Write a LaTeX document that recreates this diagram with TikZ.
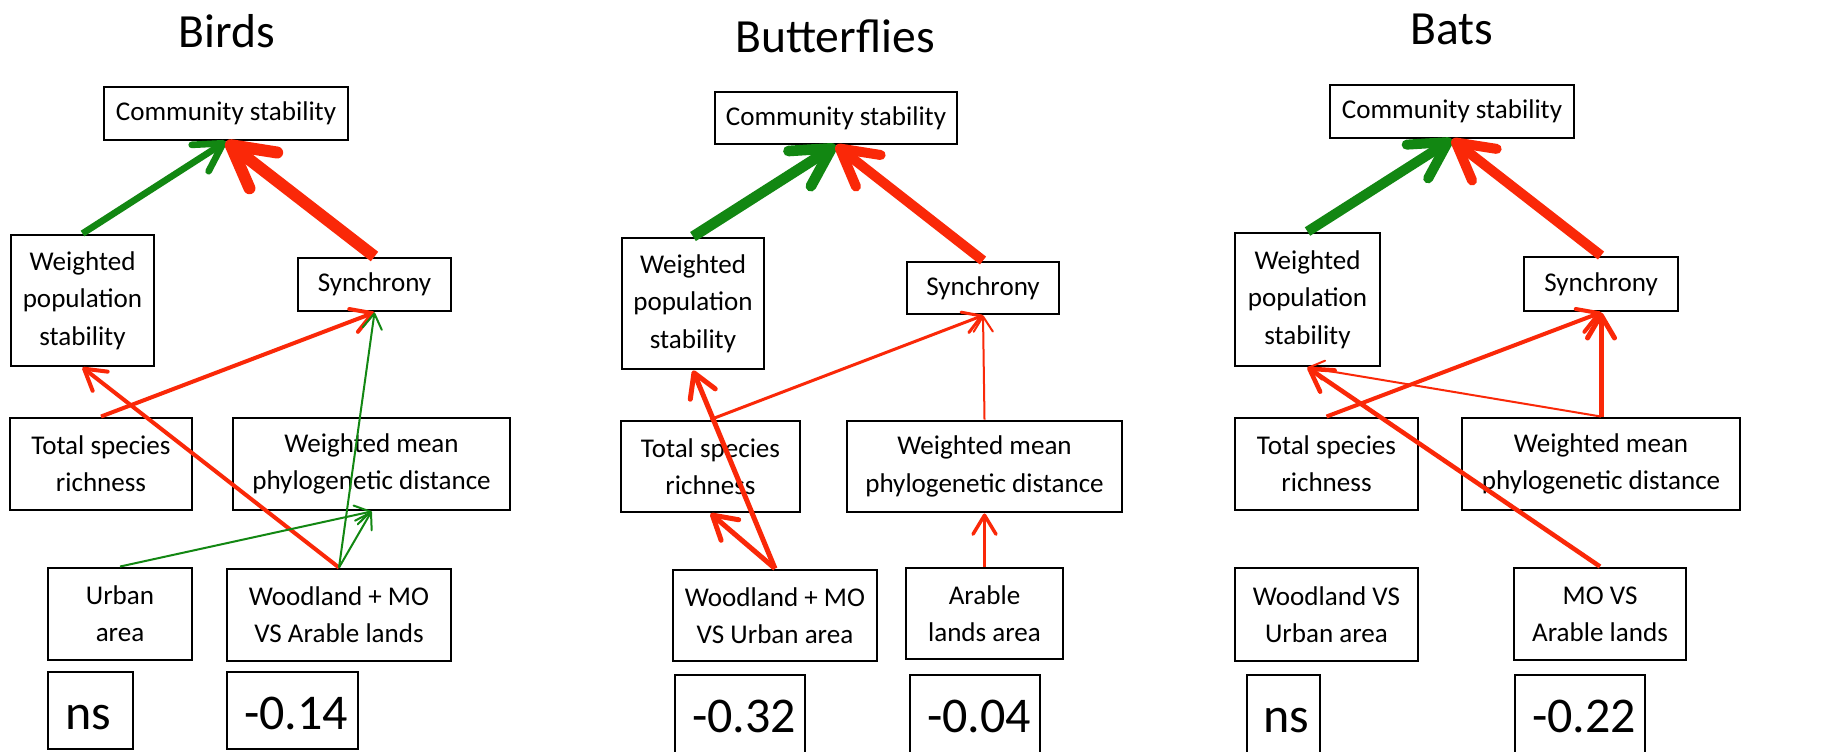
\documentclass[tikz,border=0pt]{standalone}
\usepackage{fontspec}
\setmainfont{Carlito}
\usetikzlibrary{arrows.meta}

\begin{document}
\begin{tikzpicture}[x=0.75pt,y=0.75pt,yscale=-1,xscale=1,
  box/.style={draw, line width=2.2pt, inner sep=0pt, align=center, font=\fontsize{20.3}{28}\selectfont},
  valbox/.style={draw, line width=1.1pt},
  valtext/.style={anchor=base west, inner sep=0pt, font=\fontsize{37.5}{40}\selectfont},
  heading/.style={anchor=base, inner sep=0pt, font=\fontsize{35.7}{40}\selectfont},
  link/.style={line width=#1, -{Straight Barb[round, length=7.5pt 2.6, width=10.5pt 2.6]}},
  effpos/.style={link=#1, color={rgb, 255:red, 18; green, 135; blue, 18}},
  effneg/.style={link=#1, color={rgb, 255:red, 250; green, 40; blue, 8}}
]
%set diagram area: 1841 x 751
\path[use as bounding box, fill=white] (0,0) rectangle (1841,751);

%%%%%%%% Birds
% Text Node
\node[heading] (b1title) at (227,47) {Birds};
%Shape: Rectangle
\node[box, minimum width=183pt, minimum height=39.75pt] (b1cs) at (226,113.5) {Community stability};
\node[box, minimum width=107.25pt, minimum height=98.25pt] (b1wps) at (82.5,300.5) {Weighted\\population\\stability};
\node[box, minimum width=114.75pt, minimum height=39.75pt] (b1syn) at (374.5,284.5) {Synchrony};
\node[box, minimum width=136.5pt, minimum height=69pt] (b1tsr) at (101,464) {Total species\\richness};
\node[box, minimum width=207.75pt, minimum height=69pt] (b1wmpd) at (371.5,464) {Weighted mean\\phylogenetic distance};
\node[box, minimum width=108pt, minimum height=69pt] (b1urb) at (120,614) {Urban\\area};
\node[box, minimum width=168pt, minimum height=69pt] (b1wmo) at (339,615) {Woodland + MO\\VS Arable lands};
%Straight Lines
\draw[effpos=5pt] (b1wps.north) -- (b1cs.south);
\draw[effneg=9pt] (b1syn.north) -- (b1cs.south);
\draw[effneg=3pt] (b1tsr.north) -- (b1syn.south);
\draw[effneg=3pt] (b1wmo.north) -- (b1wps.south);
\draw[effpos=1.5pt] (b1wmo.north) -- (b1syn.south);
\draw[effpos=1.5pt] (b1wmo.north) -- (b1wmpd.south);
\draw[effpos=1.5pt] (b1urb.north) -- (b1wmpd.south);
%Shape: Rectangle
\draw[valbox] (48,672) rectangle (133,749);
\draw[valbox] (227,672) rectangle (358,749);
% Text Node
\node[valtext] (b1ns) at (65,729) {ns};
\node[valtext] (b1val) at (244,729) {-0.14};

%%%%%%%% Butterflies
% Text Node
\node[heading] (b2title) at (835,52) {Butterflies};
%Shape: Rectangle
\node[box, minimum width=181.5pt, minimum height=39pt] (b2cs) at (836,118) {Community stability};
\node[box, minimum width=106.5pt, minimum height=98.25pt] (b2wps) at (693,303.5) {Weighted\\population\\stability};
\node[box, minimum width=114pt, minimum height=39pt] (b2syn) at (983,288) {Synchrony};
\node[box, minimum width=134.25pt, minimum height=68.25pt] (b2tsr) at (710.5,466.5) {Total species\\richness};
\node[box, minimum width=206.25pt, minimum height=68.25pt] (b2wmpd) at (984.5,466.5) {Weighted mean\\phylogenetic distance};
\node[box, minimum width=153pt, minimum height=68.25pt] (b2wmo) at (775,615.5) {Woodland + MO\\VS Urban area};
\node[box, minimum width=117.75pt, minimum height=68.25pt] (b2ara) at (984.5,613.5) {Arable\\lands area};
%Straight Lines
\draw[effpos=8pt] (b2wps.north) -- (b2cs.south);
\draw[effneg=7.5pt] (b2syn.north) -- (b2cs.south);
\draw[effneg=3.75pt] (b2wmo.north) -- (b2wps.south);
\draw[effneg=3.75pt] (b2wmo.north) -- (b2tsr.south);
\draw[effneg=2.25pt] (b2tsr.north) -- (b2syn.south);
\draw[effneg=1.5pt] (b2wmpd.north) -- (b2syn.south);
\draw[effneg=2.6pt] (b2ara.north) -- (b2wmpd.south);
%Shape: Rectangle
\draw[valbox] (675,675) rectangle (805,760);
\draw[valbox] (910,675) rectangle (1040,760);
% Text Node
\node[valtext] (b2val) at (692,732) {-0.32};
\node[valtext] (b2valb) at (927,732) {-0.04};

%%%%%%%% Bats
% Text Node
\node[heading] (b3title) at (1452,44) {Bats};
%Shape: Rectangle
\node[box, minimum width=183pt, minimum height=39.75pt] (b3cs) at (1452,111.5) {Community stability};
\node[box, minimum width=108.75pt, minimum height=99.75pt] (b3wps) at (1307.5,299.5) {Weighted\\population\\stability};
\node[box, minimum width=115.5pt, minimum height=40.5pt] (b3syn) at (1601,284) {Synchrony};
\node[box, minimum width=137.25pt, minimum height=69pt] (b3tsr) at (1326.5,464) {Total species\\richness};
\node[box, minimum width=208.5pt, minimum height=69pt] (b3wmpd) at (1601,464) {Weighted mean\\phylogenetic distance};
\node[box, minimum width=137.25pt, minimum height=69.75pt] (b3wvu) at (1326.5,614.5) {Woodland VS\\Urban area};
\node[box, minimum width=129pt, minimum height=69pt] (b3mo) at (1600,614) {MO VS\\Arable lands};
%Straight Lines
\draw[effpos=7.5pt] (b3wps.north) -- (b3cs.south);
\draw[effneg=7.5pt] (b3syn.north) -- (b3cs.south);
\draw[effneg=1.5pt] (b3wmpd.north) -- (b3wps.south);
\draw[effneg=3.4pt] (b3mo.north) -- (b3wps.south);
\draw[effneg=3pt] (b3tsr.north) -- (b3syn.south);
\draw[effneg=3.75pt] (b3wmpd.north) -- (b3syn.south);
%Shape: Rectangle
\draw[valbox] (1247,675) rectangle (1320,760);
\draw[valbox] (1515,675) rectangle (1645,760);
% Text Node
\node[valtext] (b3ns) at (1263,732) {ns};
\node[valtext] (b3val) at (1532,732) {-0.22};

\end{tikzpicture}
\end{document}
